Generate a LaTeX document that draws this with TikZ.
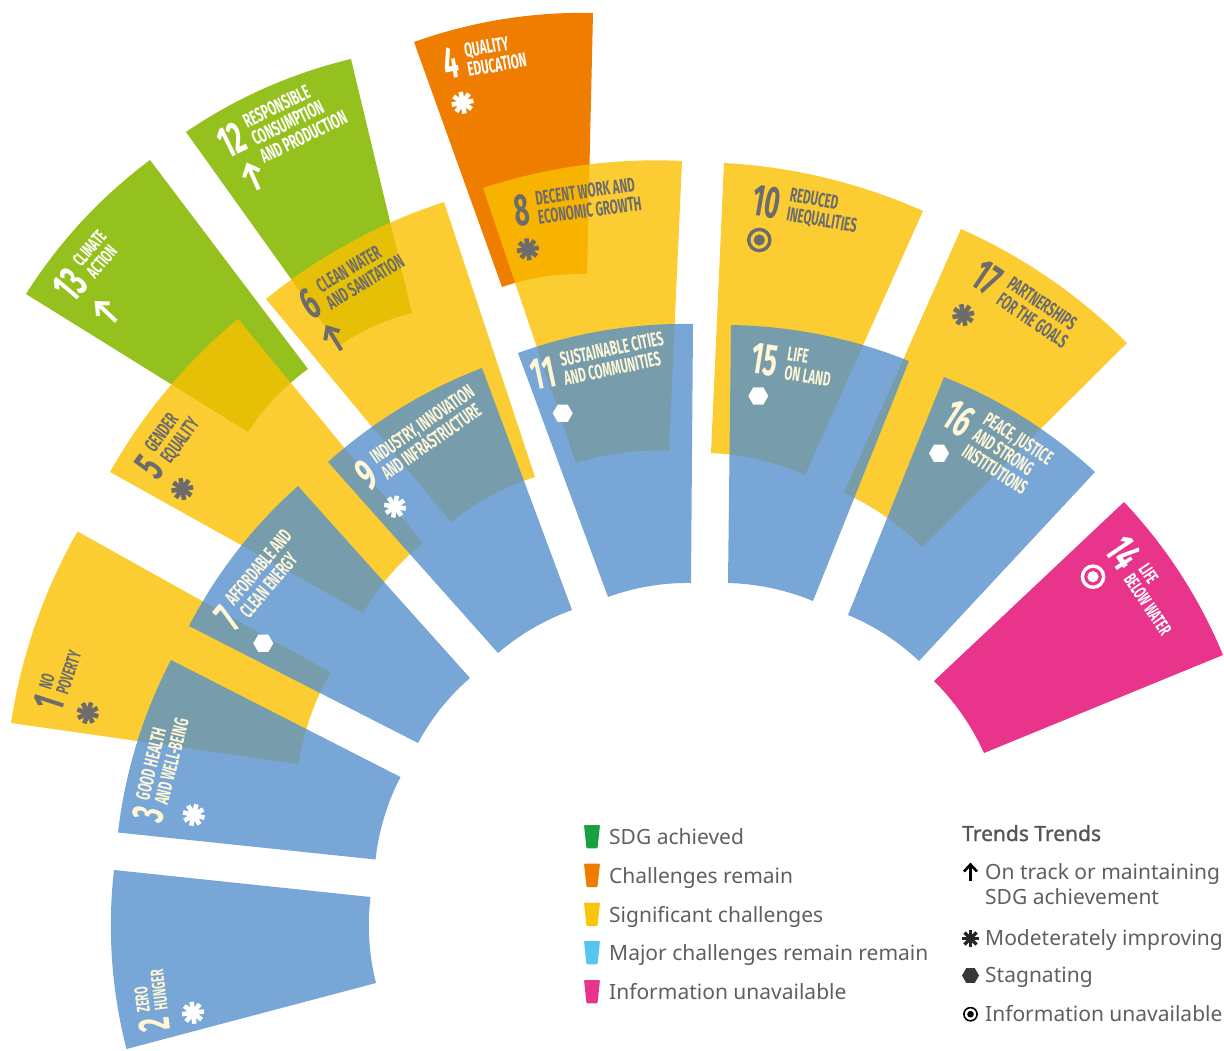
\documentclass[tikz,border=0pt]{standalone}
\usepackage{fontspec}
\setmainfont{Noto Sans}
\newfontfamily\sdgfont[FakeStretch=0.58]{Fira Sans}
\newfontfamily\keyboldfont[FakeBold=1.2]{Noto Sans}
\usetikzlibrary{positioning}

\definecolor{sdgyellow}{RGB}{251,192,0}
\definecolor{sdgblue}{RGB}{86,144,204}
\definecolor{sdggreen}{RGB}{149,193,31}
\definecolor{sdgorange}{RGB}{239,125,0}
\definecolor{sdgpink}{RGB}{232,52,139}
\definecolor{labelgray}{RGB}{108,108,108}
\definecolor{labelcream}{RGB}{255,246,214}
\definecolor{legendgray}{RGB}{95,95,95}
\definecolor{keygreen}{RGB}{26,160,60}
\definecolor{keyorange}{RGB}{239,125,0}
\definecolor{keyyellow}{RGB}{252,195,11}
\definecolor{keyblue}{RGB}{86,197,240}
\definecolor{keypink}{RGB}{232,52,139}

% trend icons: position, colour, rotation
\newcommand{\iconstar}[3]{%
  \begin{scope}[shift={#1}, rotate=#3]
    \foreach \ang in {0,45,90,135}
      \draw[#2, line width=4.6pt] (\ang:-11) -- (\ang:11);
  \end{scope}}
\newcommand{\iconhex}[3]{%
  \fill[#2, shift={#1}, rotate=#3] (0:10) -- (60:10) -- (120:10) -- (180:10) -- (240:10) -- (300:10) -- cycle;}
\newcommand{\icontarget}[3]{%
  \draw[#2, line width=3.4pt] #1 circle (10.6);
  \fill[#2] #1 circle (5.6);}
\newcommand{\iconarrow}[3]{%
  \begin{scope}[shift={#1}, rotate=#3]
    \draw[#2, line width=4pt] (0,14) -- (0,-12);
    \draw[#2, line width=4pt, line join=miter] (-8.5,-3) -- (0,-12.5) -- (8.5,-3);
  \end{scope}}

\begin{document}
\begin{tikzpicture}[x=1pt, y=-1pt,
  yellowwedge/.style={fill=sdgyellow, fill opacity=0.8},
  bluewedge/.style={fill=sdgblue, fill opacity=0.8},
  greenwedge/.style={fill=sdggreen},
  orangewedge/.style={fill=sdgorange},
  pinkwedge/.style={fill=sdgpink},
  outarc/.style={bend left=10.5, looseness=0.86},
  inarc/.style={bend right=10.5, looseness=0.86},
  sdgnum/.style={font=\sdgfont\bfseries\fontsize{45}{45}\selectfont, inner sep=0pt, transform shape},
  sdgname/.style={font=\sdgfont\bfseries\fontsize{20}{19.5}\selectfont, inner sep=0pt, align=left, transform shape},
  smallname/.style={sdgname, font=\sdgfont\bfseries\fontsize{18.5}{18}\selectfont},
  keytext/.style={font=\fontsize{21}{25}\selectfont, text=legendgray, inner sep=0pt, anchor=base west}]

\useasboundingbox (0,0) rectangle (1224,1050);

% wedges, back to front
\fill[greenwedge] (26,294) to[outarc] (150,160) -- (308,369) to[inarc] (248,432) -- cycle;
\fill[greenwedge] (186,132) to[outarc] (351,59) -- (412,313) to[inarc] (339,346) -- cycle;
\fill[orangewedge] (414,42) to[outarc] (593,13) -- (587,274) to[inarc] (502,287) -- cycle;

\fill[yellowwedge] (11,723) to[outarc] (77.5,531.5) -- (330.5,672.5) to[inarc] (298.5,764) -- cycle;
\fill[yellowwedge] (110,472) to[outarc] (238,319) -- (423,543) to[inarc] (363,613) -- cycle;
\fill[yellowwedge] (266,299) to[outarc] (444,202) -- (535,477) to[inarc] (451,522) -- cycle;
\fill[yellowwedge] (483,188) to[outarc] (682,161) -- (669,451) to[inarc] (576,463) -- cycle;
\fill[yellowwedge] (724,163) to[outarc] (923,211) -- (805,475) to[inarc] (711,453) -- cycle;
\fill[yellowwedge] (961,229) to[outarc] (1127,343) -- (922,547) to[inarc] (844,493) -- cycle;

\fill[bluewedge] (126.5,1049) to[outarc] (114,870) -- (370.5,897) to[inarc] (376,983) -- cycle;
\fill[bluewedge] (118,832.5) to[outarc] (171,660) -- (400.5,777) to[inarc] (375.5,859.5) -- cycle;
\fill[bluewedge] (189,626) to[outarc] (298,486) -- (470,678) to[inarc] (418,743) -- cycle;
\fill[bluewedge] (328,462) to[outarc] (482,368) -- (572,610) to[inarc] (498,653) -- cycle;
\fill[bluewedge] (518,353) to[outarc] (693,324) -- (691,583) to[inarc] (608,597) -- cycle;
\fill[bluewedge] (731,325) to[outarc] (909,361) -- (813,601) to[inarc] (728,583) -- cycle;
\fill[bluewedge] (944,377) to[outarc] (1095,472) -- (919,661) to[inarc] (848,615) -- cycle;

\fill[pinkwedge] (1124,502) to[outarc] (1223,655) -- (984,753) to[inarc] (934,681) -- cycle;

% labels
\begin{scope}[shift={(49.4,702.7)}, rotate=72]
  \node[sdgnum, text=labelgray] (num1) at (0,0) {1};
  \node[smallname, text=labelgray, right=6pt of num1] (name1) {NO\\POVERTY};
\end{scope}
\iconstar{(87.8,713)}{labelgray}{72}

\begin{scope}[shift={(154.2,1024.4)}, rotate=97]
  \node[sdgnum, text=labelcream] (num2) at (0,0) {2};
  \node[smallname, text=labelcream, right=6pt of num2] (name2) {ZERO\\HUNGER};
\end{scope}
\iconstar{(193,1012.8)}{white}{97}

\begin{scope}[shift={(148.3,814.6)}, rotate=76]
  \node[sdgnum, text=labelcream] (num3) at (0,0) {3};
  \node[sdgname, text=labelcream, right=6pt of num3] (name3) {GOOD HEALTH\\AND WELL-BEING};
\end{scope}
\iconstar{(193.8,815)}{white}{76}

\begin{scope}[shift={(451.5,63)}, rotate=10]
  \node[sdgnum, text=white] (num4) at (0,0) {4};
  \node[sdgname, text=white, right=7pt of num4] (name4) {QUALITY\\EDUCATION};
\end{scope}
\iconstar{(462.6,102.7)}{white}{10}

\begin{scope}[shift={(150,466.7)}, rotate=54]
  \node[sdgnum, text=labelgray] (num5) at (0,0) {5};
  \node[sdgname, text=labelgray, right=6pt of num5] (name5) {GENDER\\EQUALITY};
\end{scope}
\iconstar{(182.3,489)}{labelgray}{54}

\begin{scope}[shift={(310.4,303.3)}, rotate=31]
  \node[sdgnum, text=labelgray] (num6) at (0,0) {6};
  \node[sdgname, text=labelgray, right=7pt of num6] (name6) {CLEAN WATER\\AND SANITATION};
\end{scope}
\iconarrow{(334,338.3)}{labelgray}{32}

\begin{scope}[shift={(228.3,618.3)}, rotate=50]
  \node[sdgnum, text=labelcream] (num7) at (0,0) {7};
  \node[sdgname, text=labelcream, right=6pt of num7] (name7) {AFFORDABLE AND\\CLEAN ENERGY};
\end{scope}
\iconhex{(263.3,643.3)}{white}{0}

\begin{scope}[shift={(522,210)}, rotate=8]
  \node[sdgnum, text=labelgray] (num8) at (0,0) {8};
  \node[sdgname, text=labelgray, right=7pt of num8] (name8) {DECENT WORK AND\\ECONOMIC GROWTH};
\end{scope}
\iconstar{(527.9,249.3)}{labelgray}{8}

\begin{scope}[shift={(366.7,475)}, rotate=35]
  \node[sdgnum, text=labelcream] (num9) at (0,0) {9};
  \node[sdgname, text=labelcream, right=6pt of num9] (name9) {INDUSTRY, INNOVATION\\AND INFRASTRUCTURE};
\end{scope}
\iconstar{(395,506.7)}{white}{35}

\begin{scope}[shift={(766.7,201.5)}, rotate=-10]
  \node[sdgnum, text=labelgray] (num10) at (0,0) {10};
  \node[sdgname, text=labelgray, right=8pt of num10] (name10) {REDUCED\\INEQUALITIES};
\end{scope}
\icontarget{(759.3,240)}{labelgray}{0}

\begin{scope}[shift={(543.3,373.3)}, rotate=12]
  \node[sdgnum, text=labelcream] (num11) at (0,0) {11};
  \node[sdgname, text=labelcream, right=7pt of num11] (name11) {SUSTAINABLE CITIES\\AND COMMUNITIES};
\end{scope}
\iconhex{(562.7,413.3)}{white}{0}

\begin{scope}[shift={(231.7,140)}, rotate=26]
  \node[sdgnum, text=white] (num12) at (0,0) {12};
  \node[sdgname, text=white, right=6pt of num12, yshift=-9pt] (name12) {RESPONSIBLE\\CONSUMPTION\\AND PRODUCTION};
\end{scope}
\iconarrow{(253,176.7)}{white}{24}

\begin{scope}[shift={(70.4,285)}, rotate=50]
  \node[sdgnum, text=white] (num13) at (0,0) {13};
  \node[smallname, text=white, right=7pt of num13] (name13) {CLIMATE\\ACTION};
\end{scope}
\iconarrow{(106,311.7)}{white}{47}

\begin{scope}[shift={(1124,553.3)}, rotate=-56]
  \node[sdgnum, text=white] (num14) at (0,0) {14};
  \node[smallname, text=white, right=7pt of num14] (name14) {LIFE\\BELOW WATER};
\end{scope}
\icontarget{(1093,576.7)}{white}{0}

\begin{scope}[shift={(765,360)}, rotate=-9]
  \node[sdgnum, text=labelcream] (num15) at (0,0) {15};
  \node[sdgname, text=labelcream, right=8pt of num15] (name15) {LIFE\\ON LAND};
\end{scope}
\iconhex{(758.3,396)}{white}{0}

\begin{scope}[shift={(959,418.3)}, rotate=-33]
  \node[sdgnum, text=labelcream] (num16) at (0,0) {16};
  \node[sdgname, text=labelcream, right=8pt of num16, yshift=-4pt] (name16) {PEACE, JUSTICE\\AND STRONG\\INSTITUTIONS};
\end{scope}
\iconhex{(939,453.3)}{white}{0}

\begin{scope}[shift={(987.3,278.3)}, rotate=-34]
  \node[sdgnum, text=labelgray] (num17) at (0,0) {17};
  \node[sdgname, text=labelgray, right=8pt of num17] (name17) {PARTNERSHIPS\\FOR THE GOALS};
\end{scope}
\iconstar{(963.3,315)}{labelgray}{-34}

% legend: status
\fill[keygreen, rounded corners=1pt] (584,825) -- (600,825) -- (597.5,848.4) -- (586.5,848.4) -- cycle;
\fill[keyorange, rounded corners=1pt] (584,863.6) -- (600,863.6) -- (597.5,887) -- (586.5,887) -- cycle;
\fill[keyyellow, rounded corners=1pt] (584,902.6) -- (600,902.6) -- (597.5,926) -- (586.5,926) -- cycle;
\fill[keyblue, rounded corners=1pt] (584,941) -- (600,941) -- (597.5,964.4) -- (586.5,964.4) -- cycle;
\fill[keypink, rounded corners=1pt] (584,980) -- (600,980) -- (597.5,1003.4) -- (586.5,1003.4) -- cycle;
\node[keytext] (key1) at (609,844.5) {SDG achieved};
\node[keytext] (key2) at (609,883) {Challenges remain};
\node[keytext] (key3) at (609,922) {Significant challenges};
\node[keytext] (key4) at (609,960.5) {Major challenges remain remain};
\node[keytext] (key5) at (609,999.5) {Information unavailable};

% legend: trends
\node[keytext, font=\keyboldfont\fontsize{21}{25}\selectfont, text=legendgray!90!black] (trendtitle) at (962,841) {Trends Trends};
\draw[black, line width=2.6pt] (970.5,881) -- (970.5,866);
\draw[black, line width=2.6pt, line join=miter] (964,871.5) -- (970.5,864.5) -- (977,871.5);
\node[keytext] (trend1) at (985,879) {On track or maintaining};
\node[keytext] (trend1b) at (985,904) {SDG achievement};
\begin{scope}[shift={(970.5,938.5)}]
  \foreach \ang in {0,45,90,135}
    \draw[black!85, line width=3.4pt] (\ang:-8.5) -- (\ang:8.5);
\end{scope}
\node[keytext] (trend2) at (985,945) {Modeterately improving};
\fill[black!78] (979,975.5) -- (974.75,968.1) -- (966.25,968.1) -- (962,975.5) -- (966.25,982.9) -- (974.75,982.9) -- cycle;
\node[keytext] (trend3) at (985,982) {Stagnating};
\draw[black, line width=1.6pt] (970.5,1014.2) circle (6.6);
\fill[black] (970.5,1014.2) circle (3.3);
\node[keytext] (trend4) at (985,1021) {Information unavailable};
\end{tikzpicture}
\end{document}
